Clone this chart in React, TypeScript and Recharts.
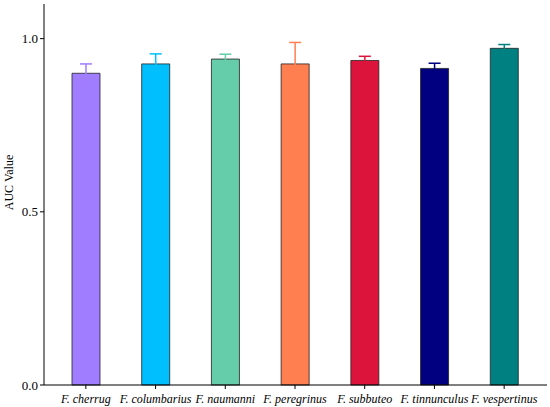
import { Bar, BarChart, Cell, ErrorBar, XAxis, YAxis } from 'recharts'

const species = [
  'F. cherrug',
  'F. columbarius',
  'F. naumanni',
  'F. peregrinus',
  'F. subbuteo',
  'F. tinnunculus',
  'F. vespertinus',
]
const aucMean = [0.900, 0.927, 0.941, 0.927, 0.937, 0.914, 0.972]
const aucErr = [0.027, 0.029, 0.014, 0.062, 0.012, 0.015, 0.011]
const barColors = ['#A07CFF', '#00BFFF', '#66CDAA', '#FF7F50', '#DC143C', '#000080', '#008080']
const yTicks = [0, 0.5, 1.0]

const data = species.map((name, i) => ({ name, auc: aucMean[i], err: aucErr[i] }))

const serif = 'Liberation Serif'

const XTick = ({ x, y, payload }: any) => (
  <text x={x} y={y + 12} textAnchor="middle" fontFamily={serif} fontSize={12} fontStyle="italic" fill="#000">
    {payload.value}
  </text>
)

const YTick = ({ x, y, payload }: any) => (
  <text x={x} y={y + 4.5} textAnchor="end" fontFamily={serif} fontSize={13} fill="#000">
    {Number(payload.value).toFixed(1)}
  </text>
)

const AxisLabel = ({ viewBox }: any) => {
  const cx = 9
  const cy = viewBox.y + viewBox.height / 2 - 12
  return (
    <text
      x={cx}
      y={cy}
      transform={`rotate(-90, ${cx}, ${cy})`}
      textAnchor="middle"
      dominantBaseline="central"
      fontFamily={serif}
      fontSize={12}
      fill="#000"
    >
      AUC Value
    </text>
  )
}

export default function App() {
  return (
    <div style={{ position: 'absolute', left: 0, top: 0, background: '#fff' }}>
      <BarChart
        width={550}
        height={407}
        data={data}
        margin={{ top: 4, right: 3, bottom: 0, left: 0 }}
        barSize={28}
      >
        <XAxis
          dataKey="name"
          padding={{ left: 7, right: 8 }}
          height={22}
          tickSize={4}
          tickMargin={2}
          stroke="#000"
          tick={<XTick />}
          interval={0}
        />
        <YAxis
          width={44}
          domain={[0, 1.1]}
          ticks={yTicks}
          tickSize={4}
          tickMargin={2}
          stroke="#000"
          tick={<YTick />}
          label={<AxisLabel />}
        />
        <Bar
          dataKey="auc"
          stroke="#222"
          strokeOpacity={0.8}
          strokeWidth={1}
          isAnimationActive={false}
        >
          {data.map((d, i) => (
            <Cell key={d.name} fill={barColors[i]} />
          ))}
          {species.map((name, i) => (
            <ErrorBar
              key={name}
              dataKey={(entry: any) => (entry.name === name ? entry.err : undefined)}
              width={6}
              strokeWidth={1.5}
              stroke={barColors[i]}
              isAnimationActive={false}
            />
          ))}
        </Bar>
      </BarChart>
    </div>
  )
}
